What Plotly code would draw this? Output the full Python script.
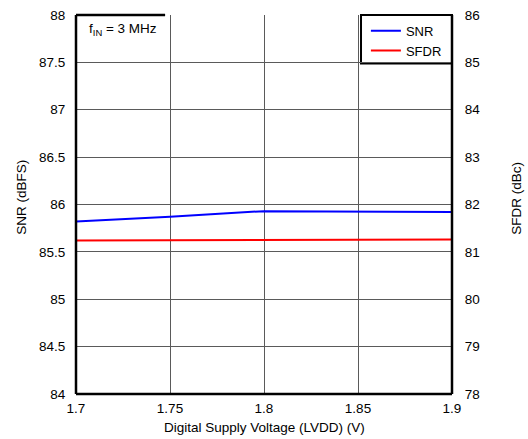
import plotly.graph_objects as go

voltage = [1.7, 1.75, 1.8, 1.85, 1.9]
snr = [85.82, 85.87, 85.93, 85.925, 85.92]
sfdr = [81.24, 81.245, 81.25, 81.255, 81.26]

x_ticks = [1.7, 1.75, 1.8, 1.85, 1.9]
x_tick_labels = ["1.7", "1.75", "1.8", "1.85", "1.9"]
snr_ticks = [84, 84.5, 85, 85.5, 86, 86.5, 87, 87.5, 88]
snr_tick_labels = ["84", "84.5", "85", "85.5", "86", "86.5", "87", "87.5", "88"]
sfdr_ticks = [78, 79, 80, 81, 82, 83, 84, 85, 86]

font = "Liberation Sans, Arial, sans-serif"
grid = "#5a5a5a"
fs = 13.5

fig = go.Figure()
fig.add_trace(go.Scatter(x=voltage, y=snr, mode="lines", name="SNR",
                         line=dict(color="#0000ff", width=2)))
fig.add_trace(go.Scatter(x=voltage, y=sfdr, mode="lines", name="SFDR",
                         line=dict(color="#ff0000", width=2), yaxis="y2"))

fig.update_layout(
    width=528, height=439,
    margin=dict(l=76, r=76, t=15, b=45, autoexpand=False),
    paper_bgcolor="white", plot_bgcolor="white",
    font=dict(family=font, size=fs, color="black"),
    showlegend=True,
    legend=dict(x=0.771, y=0.998, xanchor="left", yanchor="top",
                borderwidth=0, bgcolor="rgba(0,0,0,0)",
                font=dict(size=13), tracegroupgap=0, itemwidth=30),
    xaxis=dict(range=[1.7, 1.9], tickvals=x_ticks, ticktext=x_tick_labels,
               showgrid=True, gridcolor=grid, gridwidth=1, automargin=False,
               zeroline=False, showline=False,
               ticks="outside", ticklen=2, tickcolor="rgba(0,0,0,0)"),
    yaxis=dict(range=[84, 88], tickvals=snr_ticks, ticktext=snr_tick_labels,
               showgrid=True, gridcolor=grid, gridwidth=1, automargin=False,
               zeroline=False, showline=False,
               ticks="outside", ticklen=7, tickcolor="rgba(0,0,0,0)"),
    yaxis2=dict(range=[78, 86], tickvals=sfdr_ticks, overlaying="y", side="right",
                showgrid=False, zeroline=False, showline=False, automargin=False,
                ticks="outside", ticklen=9, tickcolor="rgba(0,0,0,0)"),
)

# Frame: thick left, right, bottom
for x0, y0, x1, y1 in [(0, 0, 0, 1), (1, 0, 1, 1), (0, 0, 1, 0)]:
    fig.add_shape(type="line", xref="paper", yref="paper", x0=x0, y0=y0, x1=x1, y1=y1,
                  line=dict(color="black", width=2.5))
# Thick top edge of text box
fig.add_shape(type="line", xref="paper", yref="paper", x0=0, y0=1, x1=0.237, y1=1,
              line=dict(color="black", width=2.5))
# Legend box
fig.add_shape(type="rect", xref="paper", yref="paper", x0=0.758, y0=0.872, x1=1, y1=1,
              line=dict(color="black", width=2), fillcolor="white", layer="below")

fig.add_annotation(xref="paper", yref="paper", x=0.03, y=0.99, xanchor="left", yanchor="top",
                   text="f<sub>IN</sub> = 3 MHz", showarrow=False, font=dict(size=fs))

# Axis titles
fig.add_annotation(xref="paper", yref="paper", x=0.5, y=-0.088, xanchor="center", yanchor="middle",
                   text="Digital Supply Voltage (LVDD) (V)", showarrow=False, font=dict(size=fs))
fig.add_annotation(xref="paper", yref="paper", x=-0.144, y=0.52, xanchor="center", yanchor="middle",
                   text="SNR (dBFS)", textangle=-90, showarrow=False, font=dict(size=fs))
fig.add_annotation(xref="paper", yref="paper", x=1.173, y=0.515, xanchor="center", yanchor="middle",
                   text="SFDR (dBc)", textangle=-90, showarrow=False, font=dict(size=fs))

fig.write_html("out.html", config={"displayModeBar": False},
               post_script="document.body.style.margin='0';document.body.style.overflow='hidden';")
